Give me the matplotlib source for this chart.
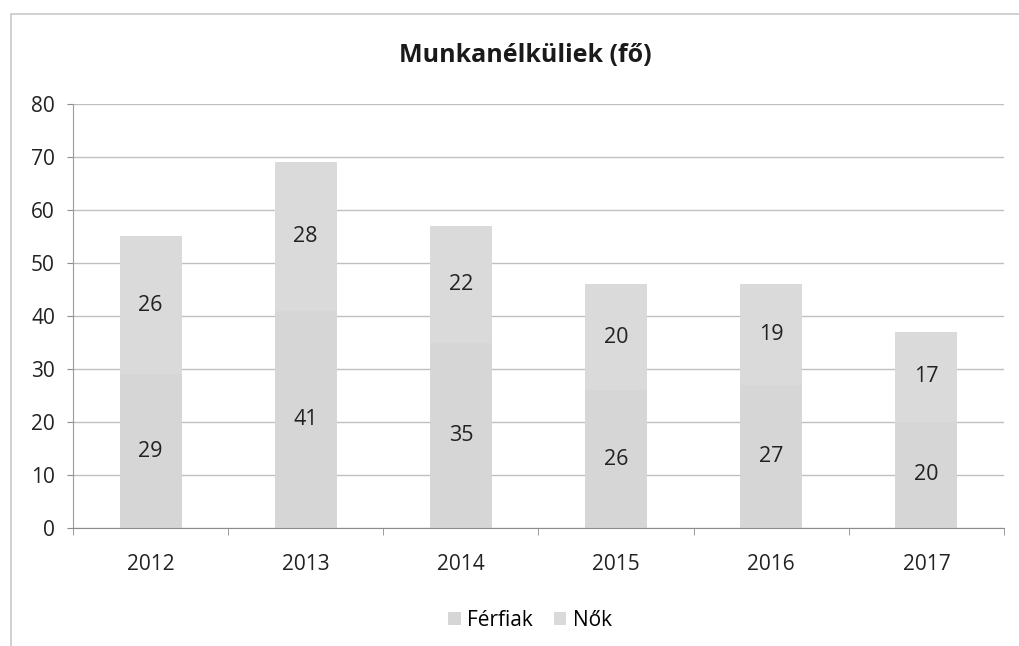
import matplotlib
matplotlib.use("Agg")
import matplotlib.pyplot as plt
import numpy as np
from matplotlib.patches import Rectangle

years = ["2012", "2013", "2014", "2015", "2016", "2017"]
ferfiak = [29, 41, 35, 26, 27, 20]
nok = [26, 28, 22, 20, 19, 17]
yticks = [0, 10, 20, 30, 40, 50, 60, 70, 80]

plt.rcParams['font.family'] = ['Open Sans', 'DejaVu Sans']

fig = plt.figure(figsize=(10.2, 6.46), dpi=100)
ax = fig.add_axes([73/1020, 1-528/646, 931/1020, 424/646])

x = np.arange(len(years))
w = 0.40
c_f = "#d6d6d6"
c_n = "#dadada"
b1 = ax.bar(x, ferfiak, w, color=c_f, label="Férfiak", zorder=2)
b2 = ax.bar(x, nok, w, bottom=ferfiak, color=c_n, label="Nők", zorder=2)

for i in range(len(years)):
    ax.text(x[i], ferfiak[i]/2, str(ferfiak[i]), ha="center", va="center",
            fontsize=15.5, color="#222222", zorder=3)
    ax.text(x[i], ferfiak[i] + nok[i]/2, str(nok[i]), ha="center", va="center",
            fontsize=15.5, color="#222222", zorder=3)

ax.set_xlim(-0.5, len(years)-0.5)
ax.set_ylim(0, 80)
ax.set_yticks(yticks)
ax.set_yticklabels([str(v) for v in yticks], fontsize=15, color="#222222")
ax.set_xticks(x)
ax.set_xticklabels(years, fontsize=15, color="#222222")
ax.tick_params(axis="x", length=0, pad=19)
ax.set_xticks(np.arange(-0.5, len(years)), minor=True)
ax.tick_params(axis="x", which="minor", length=5, color="#8c8c8c", direction="out")
ax.tick_params(axis="y", length=4, color="#8c8c8c", pad=9)
ax.grid(axis="y", color="#c0c0c0", linewidth=1, zorder=1)
for s in ["top", "right"]:
    ax.spines[s].set_visible(False)
ax.spines["left"].set_color("#9a9a9a")
ax.spines["bottom"].set_color("#8c8c8c")

fig.text(525/1020, 1-56/646, "Munkanélküliek (fő)", fontsize=18,
         fontweight="bold", color="#1a1a1a", ha="center", va="center")

leg = fig.legend(handles=[b1, b2], labels=["Férfiak", "Nők"], loc="center",
                 bbox_to_anchor=(530/1020, 1-620/646), ncol=2, frameon=False,
                 fontsize=15, handlelength=0.6, handleheight=0.6,
                 columnspacing=1.0, handletextpad=0.3)

fig.patches.append(Rectangle((11/1020, -0.1), 1.2, 1-14/646+0.1,
                             transform=fig.transFigure, fill=False,
                             edgecolor="#c8c8c8", linewidth=1.2))

fig.savefig("out.png", dpi=100)
